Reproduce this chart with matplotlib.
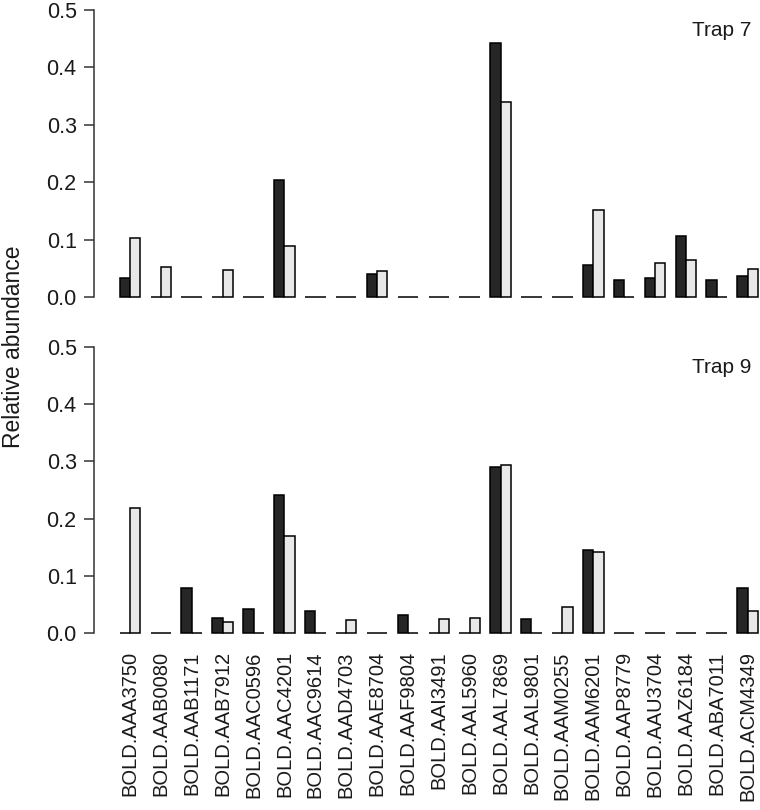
import matplotlib
matplotlib.use("Agg")
import matplotlib.pyplot as plt
import numpy as np

plt.rcParams['font.family'] = ['Liberation Sans', 'DejaVu Sans']

otus = ["BOLD.AAA3750", "BOLD.AAB0080", "BOLD.AAB1171", "BOLD.AAB7912",
        "BOLD.AAC0596", "BOLD.AAC4201", "BOLD.AAC9614", "BOLD.AAD4703",
        "BOLD.AAE8704", "BOLD.AAF9804", "BOLD.AAI3491", "BOLD.AAL5960",
        "BOLD.AAL7869", "BOLD.AAL9801", "BOLD.AAM0255", "BOLD.AAM6201",
        "BOLD.AAP8779", "BOLD.AAU3704", "BOLD.AAZ6184", "BOLD.ABA7011",
        "BOLD.ACM4349"]

# trap 7: dark / light series
trap7_dark = [0.033, 0, 0, 0, 0, 0.203, 0, 0, 0.040, 0, 0, 0,
              0.442, 0, 0, 0.055, 0.030, 0.033, 0.107, 0.030, 0.037]
trap7_light = [0.102, 0.052, 0, 0.047, 0, 0.089, 0, 0, 0.046, 0, 0, 0,
               0.339, 0, 0, 0.152, 0, 0.059, 0.065, 0, 0.049]
# trap 9
trap9_dark = [0, 0, 0.079, 0.027, 0.042, 0.242, 0.039, 0, 0, 0.032, 0, 0,
              0.290, 0.025, 0, 0.145, 0, 0, 0, 0, 0.079]
trap9_light = [0.219, 0, 0, 0.019, 0, 0.169, 0, 0.022, 0, 0, 0.024, 0.027,
               0.294, 0, 0.045, 0.142, 0, 0, 0, 0, 0.039]

yticks = [0.0, 0.1, 0.2, 0.3, 0.4, 0.5]

W, H = 760, 810
fig = plt.figure(figsize=(W / 100, H / 100), dpi=100)

left = 94 / W
width = 1 - left
ax1 = fig.add_axes([left, 1 - 302.7 / H, width, (302.7 - 4.3) / H])
ax2 = fig.add_axes([left, 1 - 638.7 / H, width, (638.7 - 341.3) / H])

x = np.arange(len(otus)) * 3 + 1
txtc = '#1a1a1a'

for ax, dark, light, name in [(ax1, trap7_dark, trap7_light, "Trap 7"),
                              (ax2, trap9_dark, trap9_light, "Trap 9")]:
    ax.bar(x, dark, width=1, align='edge', color='#262626',
           edgecolor='black', linewidth=1.1)
    ax.bar(x + 1, light, width=1, align='edge', color='#e8e8e8',
           edgecolor='black', linewidth=1.1)
    ax.set_xlim(-1.5, 63.2)
    ax.set_ylim(-0.01, 0.51)
    for s in ['top', 'right', 'bottom']:
        ax.spines[s].set_visible(False)
    ax.spines['left'].set_bounds(0, 0.5)
    ax.spines['left'].set_color('#333333')
    ax.spines['left'].set_linewidth(1.1)
    ax.set_yticks(yticks)
    ax.set_yticklabels([f"{v:.1f}" for v in yticks])
    ax.tick_params(axis='y', length=7.5, width=1.1, color='#333333',
                   labelsize=15.5, labelcolor=txtc, pad=5)
    ax.set_xticks([])
    ax.text(62.4, 0.464, name, ha='right', va='center', fontsize=15,
            color=txtc)

ax2.set_xticks(x + 1)
ax2.set_xticklabels(otus, rotation=90, fontsize=14.5, color=txtc)
ax2.tick_params(axis='x', length=0, pad=9)

fig.text(14 / W, 1 - 347 / H, "Relative abundance", rotation=90,
         ha='center', va='center', fontsize=16.5, color=txtc)

fig.savefig("out.png", dpi=100)
